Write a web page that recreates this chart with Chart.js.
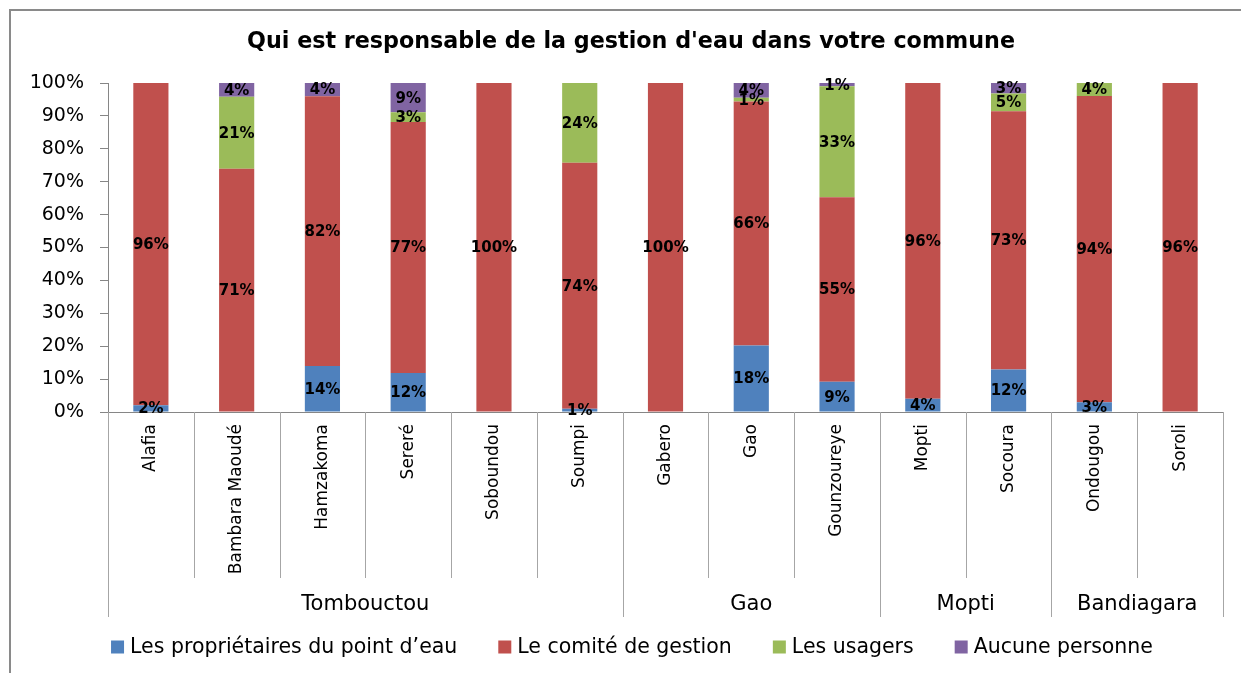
<!DOCTYPE html>
<html>
<head>
<meta charset="utf-8">
<script src="https://cdn.jsdelivr.net/npm/chart.js@4.4.1/dist/chart.umd.min.js"></script>
<style>
  html, body { margin: 0; padding: 0; background: #ffffff; }
  canvas { display: block; }
</style>
</head>
<body>
<canvas id="c" width="1241" height="673"></canvas>
<script>
// ---------- DATA ----------
const chartTitle = "Qui est responsable de la gestion d'eau dans votre commune";
const categories = ["Alafia", "Bambara Maoudé", "Hamzakoma", "Sereré", "Soboundou", "Soumpi",
                    "Gabero", "Gao", "Gounzoureye", "Mopti", "Socoura", "Ondougou", "Soroli"];
const groupNames = ["Tombouctou", "Gao", "Mopti", "Bandiagara"];
const groupSizes = [6, 3, 2, 2];
const seriesNames = ["Les propriétaires du point d’eau", "Le comité de gestion", "Les usagers", "Aucune personne"];
const proprietaires = [2, 0, 14, 12, 0, 1, 0, 18, 9, 4, 12, 3, 0];
const comite        = [96, 71, 82, 77, 100, 74, 100, 66, 55, 96, 73, 94, 96];
const usagers       = [0, 21, 0, 3, 0, 24, 0, 1, 33, 0, 5, 4, 0];
const aucune        = [0, 4, 4, 9, 0, 0, 0, 4, 1, 0, 3, 0, 0];
const yTickStep = 10;

// ---------- STYLE ----------
const colors = ["#4F81BD", "#C0504D", "#9BBB59", "#8064A2"];
const axisColor = "#868686";
const dividerColor = "#A6A6A6";
const FONT = "'DejaVu Sans', sans-serif";

const seriesValues = [proprietaires, comite, usagers, aucune];
const totals = categories.map((_, i) => seriesValues.reduce((s, arr) => s + arr[i], 0));
const datasets = seriesValues.map((arr, k) => ({
  label: seriesNames[k],
  data: arr.map((v, i) => v ? v / totals[i] * 100 : null),
  raw: arr,
  backgroundColor: colors[k],
  borderWidth: 0,
  barPercentage: 0.41,
  categoryPercentage: 1.0
}));

const decorPlugin = {
  id: 'decor',
  afterDraw(chart) {
    const ctx = chart.ctx;
    const xs = chart.scales.x;
    const ca = chart.chartArea;
    ctx.save();

    // outer frame
    ctx.strokeStyle = "#8a8a8a";
    ctx.lineWidth = 2;
    ctx.strokeRect(10, 10, 1400, 800);

    // title (fit to reference width)
    let ts = 20;
    ctx.font = "bold " + ts + "px " + FONT;
    const tw = ctx.measureText(chartTitle).width;
    ts = ts * 768 / tw;
    ctx.font = "bold " + ts.toFixed(2) + "px " + FONT;
    ctx.fillStyle = "#000";
    ctx.textAlign = "center";
    ctx.textBaseline = "middle";
    ctx.fillText(chartTitle, 631, 42);

    // category dividers and group dividers
    const n = categories.length;
    const step = (xs.right - xs.left) / n;
    const boundary = i => Math.round(xs.left + i * step) + 0.5;
    ctx.lineWidth = 1;
    ctx.strokeStyle = dividerColor;
    const groupEdges = [0];
    groupSizes.forEach(s => groupEdges.push(groupEdges[groupEdges.length - 1] + s));
    for (let i = 0; i <= n; i++) {
      const isGroup = groupEdges.includes(i);
      ctx.beginPath();
      ctx.moveTo(boundary(i), ca.bottom);
      ctx.lineTo(boundary(i), ca.bottom + (isGroup ? 205 : 166));
      ctx.stroke();
    }
    // group labels
    ctx.font = "21px " + FONT;
    ctx.fillStyle = "#000";
    ctx.textAlign = "center";
    ctx.textBaseline = "middle";
    for (let g = 0; g < groupNames.length; g++) {
      const cx = (xs.left + groupEdges[g] * step + xs.left + groupEdges[g + 1] * step) / 2;
      ctx.fillText(groupNames[g], cx, ca.bottom + 193);
    }

    // data labels
    ctx.font = "bold 15px " + FONT;
    ctx.fillStyle = "#000";
    chart.data.datasets.forEach((ds, k) => {
      const meta = chart.getDatasetMeta(k);
      meta.data.forEach((el, i) => {
        const v = ds.raw[i];
        if (!v) return;
        ctx.fillText(v + "%", el.x, (el.y + el.base) / 2 + 1);
      });
    });

    // legend
    ctx.font = "20.5px " + FONT;
    const box = 13, gapBT = 6, gapItems = 41;
    const widths = seriesNames.map(s => box + gapBT + ctx.measureText(s).width);
    const total = widths.reduce((a, b) => a + b, 0) + gapItems * (seriesNames.length - 1);
    let lx = 632 - total / 2;
    const ly = 647;
    ctx.textAlign = "left";
    seriesNames.forEach((s, k) => {
      ctx.fillStyle = colors[k];
      ctx.fillRect(lx, ly - box / 2, box, box);
      ctx.fillStyle = "#000";
      ctx.fillText(s, lx + box + gapBT, ly + 1);
      lx += widths[k] + gapItems;
    });
    ctx.restore();
  }
};

new Chart(document.getElementById('c'), {
  type: 'bar',
  data: { labels: categories, datasets },
  options: {
    responsive: false,
    animation: false,
    layout: { padding: { left: 10, right: 18, top: 83, bottom: 56 } },
    plugins: {
      legend: { display: false },
      title: { display: false },
      tooltip: { enabled: false }
    },
    scales: {
      x: {
        stacked: true,
        grid: { display: false, drawTicks: false },
        border: { display: true, color: axisColor, width: 1 },
        ticks: {
          minRotation: 90, maxRotation: 90, autoSkip: false,
          padding: 12,
          color: "#000",
          font: { family: FONT, size: 17 }
        },
        afterFit(scale) { scale.height = 205; }
      },
      y: {
        stacked: true,
        min: 0, max: 100,
        grid: { display: true, drawOnChartArea: false, drawTicks: true, tickLength: 8, color: axisColor },
        border: { display: true, color: axisColor, width: 1 },
        ticks: {
          stepSize: yTickStep,
          padding: 16,
          color: "#000",
          font: { family: FONT, size: 19 },
          callback: v => v + "%"
        },
        afterFit(scale) { scale.width = 98; }
      }
    }
  },
  plugins: [decorPlugin]
});
</script>
</body>
</html>
